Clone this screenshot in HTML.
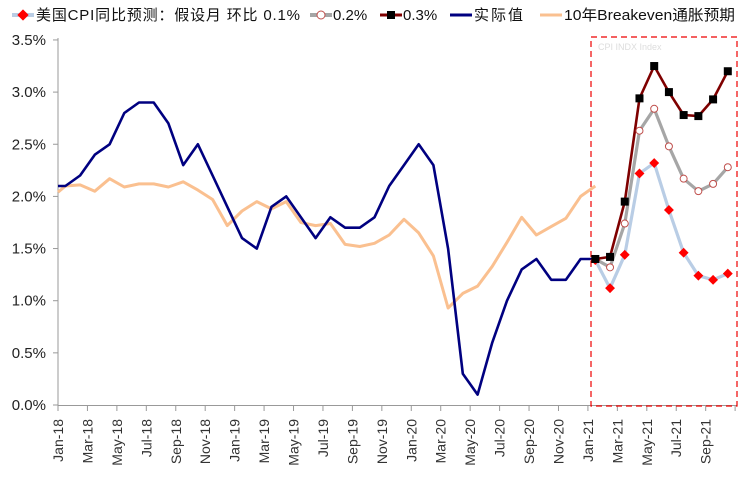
<!DOCTYPE html>
<html><head><meta charset="utf-8"><style>
body{margin:0;background:#fff;}
svg{display:block;font-family:"Liberation Sans","Noto Sans CJK SC",sans-serif;}
</style></head><body>
<svg id="s" width="747" height="483" viewBox="0 0 747 483" xmlns="http://www.w3.org/2000/svg">
<g font-size="15" fill="#111">
<line x1="12" y1="15" x2="34" y2="15" stroke="#b9cde5" stroke-width="4"/>
<rect x="19" y="11" width="8" height="8" fill="#f00" transform="rotate(45 23 15)"/>
<text x="36" y="20" textLength="264" lengthAdjust="spacing">美国CPI同比预测：假设月 环比 0.1%</text>
<line x1="310" y1="15" x2="332" y2="15" stroke="#a6a6a6" stroke-width="4"/>
<circle cx="321" cy="15" r="4" fill="#fff" stroke="#c0504d" stroke-width="1"/>
<text x="333" y="20">0.2%</text>
<line x1="380" y1="15" x2="402" y2="15" stroke="#7f0000" stroke-width="3"/>
<rect x="387" y="11" width="8" height="8" fill="#000"/>
<text x="403" y="20">0.3%</text>
<line x1="450" y1="15" x2="472" y2="15" stroke="#000080" stroke-width="3"/>
<text x="474" y="20" textLength="49" lengthAdjust="spacing">实际值</text>
<line x1="540" y1="15" x2="562" y2="15" stroke="#fac090" stroke-width="3"/>
<text x="564" y="20" textLength="171" lengthAdjust="spacingAndGlyphs">10年Breakeven通胀预期</text>
</g>
<g id="axes" stroke="#999" stroke-width="1"></g>
<g id="lbl" font-size="15" fill="#222"></g>
<rect x="591" y="37" width="146" height="369" fill="none" stroke="#e00" stroke-width="1.2" stroke-dasharray="6,4"/>
<text x="598" y="50" font-size="9" fill="#ddd">CPI INDX Index</text>
<g id="series"></g>
</svg>
<script>
var s=document.getElementById('series'),ax=document.getElementById('axes'),lb=document.getElementById('lbl');
var NS="http://www.w3.org/2000/svg";
function el(p,t,a,txt){var e=document.createElementNS(NS,t);for(var k in a)e.setAttribute(k,a[k]);if(txt)e.textContent=txt;p.appendChild(e);return e;}
function Y(v){return 405-104.3*v;}
function X(i){return 65.4+14.72*i;}
el(ax,'line',{x1:58,y1:38,x2:58,y2:406});
el(ax,'line',{x1:58,y1:405.5,x2:737,y2:405.5});
for(var k=0;k<=7;k++){var y=Y(k*0.5);el(ax,'line',{x1:53,y1:y,x2:58,y2:y});
 el(lb,'text',{x:46,y:y+5,'text-anchor':'end'},(k*0.5).toFixed(1)+'%');}
var mons=['Jan','Mar','May','Jul','Sep','Nov'];
for(var i=0;i<=23;i++){var x=58+29.44*i;el(ax,'line',{x1:x,y1:406,x2:x,y2:411});
 if(i<23){var lab=mons[i%6]+'-'+(18+Math.floor(i/6));
 el(lb,'text',{x:0,y:0,'text-anchor':'end','font-size':14,fill:'#333',transform:'translate('+(x+5)+',419) rotate(-90)'},lab);}}
function path(vals,start,col,w,pre){var d='';if(pre!==undefined)d='M58,'+Y(pre).toFixed(1)+' L';else d='M';
 d+=vals.map(function(v,i){return X(start+i).toFixed(1)+','+Y(v).toFixed(1)}).join(' L');
 el(s,'path',{d:d,fill:'none',stroke:col,'stroke-width':w,'stroke-linejoin':'round'});}
var navy=[2.1,2.2,2.4,2.5,2.8,2.9,2.9,2.7,2.3,2.5,2.2,1.9,1.6,1.5,1.9,2.0,1.8,1.6,1.8,1.7,1.7,1.8,2.1,2.3,2.5,2.3,1.5,0.3,0.1,0.6,1.0,1.3,1.4,1.2,1.2,1.4,1.4];
var ora=[2.10,2.11,2.05,2.17,2.09,2.12,2.12,2.09,2.14,2.06,1.97,1.72,1.86,1.95,1.88,1.95,1.75,1.72,1.74,1.54,1.52,1.55,1.63,1.78,1.65,1.43,0.93,1.07,1.14,1.33,1.56,1.80,1.63,1.71,1.79,2.0,2.1];
var red=[1.39,1.12,1.44,2.22,2.32,1.87,1.46,1.24,1.20,1.26];
var gray=[1.4,1.32,1.74,2.63,2.84,2.48,2.17,2.05,2.12,2.28];
var blk=[1.4,1.42,1.95,2.94,3.25,3.0,2.78,2.77,2.93,3.20];
path(ora,0,'#fac090',3,2.04);
path(navy,0,'#000080',2.6,2.1);
path(red,36,'#b9cde5',3.2);
path(gray,36,'#a6a6a6',3.2);
path(blk,36,'#7f0000',2.6);
red.forEach(function(v,i){var x=X(36+i),y=Y(v);el(s,'rect',{x:x-3.5,y:y-3.5,width:7,height:7,fill:'#f00',transform:'rotate(45 '+x+' '+y+')'});});
gray.forEach(function(v,i){if(i==0)return;el(s,'circle',{cx:X(36+i),cy:Y(v),r:3.5,fill:'#fff',stroke:'#c0504d','stroke-width':1});});
blk.forEach(function(v,i){el(s,'rect',{x:X(36+i)-4,y:Y(v)-4,width:8,height:8,fill:'#000'});});
</script>
</body></html>
